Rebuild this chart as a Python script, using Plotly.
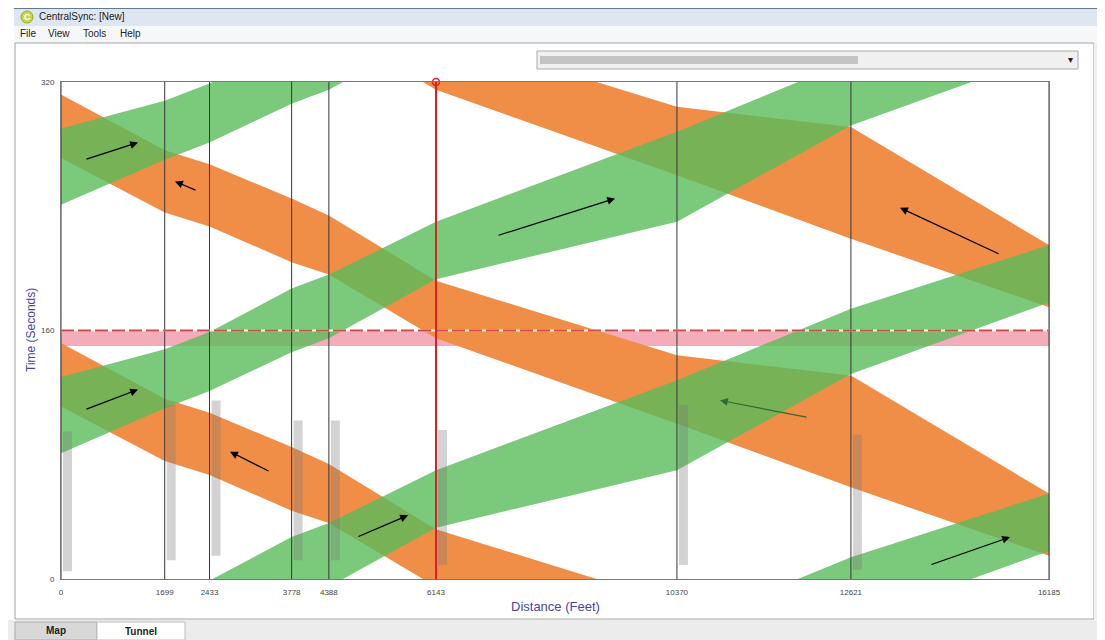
import plotly.graph_objects as go

# ---------------- data ----------------
cycle_length = 160  # seconds
dist_labels = ["0", "1699", "2433", "3778", "4388", "6143", "10370", "12621", "16185"]
dist_pos = [0, 1699, 2433, 3778, 4388, 6143, 10090, 12940, 16185]
y_ticks = [0, 160, 320]

# green (up-right) band edges, seconds, at each intersection
green_lo = [81, 110, 121, 146, 155, 193, 230, 292, 338]
green_hi = [130, 148, 159, 187, 196, 230, 288, 334, 375]
green_cycles = [-2, -1, 0, 1]
# orange (down-right) band edges, seconds, at each intersection
orange_hi = [312, 276, 267, 245, 234, 192, 144, 131, 55]
orange_lo = [271, 236, 227, 204, 196, 155, 100, 59, 15]
orange_cycles = [-1, 0, 1]

pink_band = [150, 160]
selected_intersection = 6143

# arrows: (tail_x, tail_t, head_x, head_t, colour)
arrows = [
    (393, 270, 1261, 281, "black"),
    (2228, 250, 1868, 256, "black"),
    (393, 109, 1261, 122, "black"),
    (3424, 69, 2769, 82, "black"),
    (4849, 27, 5685, 41, "black"),
    (7143, 221, 9076, 245, "black"),
    (12237, 104, 10796, 115, "#2e6b34"),
    (15383, 209, 13744, 239, "black"),
    (14236, 9, 15547, 27, "black"),
]
# blurred street-name label extents (seconds) at each intersection
label_extent = [(5, 95), (12, 112), (15, 115), (12, 102), (12, 102), (9, 96), (9, 112), (6, 93), (6, 108)]

# ---------------- layout helpers ----------------
W, H = 1105, 640
OFF = 8  # page body margin of the browser
PL, PR, PT, PB = 61, 1049, 82, 579


def px(x):
    return (x - PL) / (PR - PL)


def py(y):
    return (PB - y) / (PB - PT)


ORANGE = "rgb(240,142,72)"
GREEN = "rgba(90,188,90,0.80)"

fig = go.Figure()

# pink band
fig.add_trace(go.Scatter(
    x=[dist_pos[0], dist_pos[-1], dist_pos[-1], dist_pos[0]],
    y=[pink_band[0], pink_band[0], pink_band[1], pink_band[1]],
    fill="toself", fillcolor="rgb(245,172,186)", line=dict(width=0),
    mode="lines", hoverinfo="skip", showlegend=False))

for k in orange_cycles:
    fig.add_trace(go.Scatter(
        x=dist_pos + dist_pos[::-1],
        y=[v + k * cycle_length for v in orange_hi] + [v + k * cycle_length for v in orange_lo[::-1]],
        fill="toself", fillcolor=ORANGE, line=dict(width=0), mode="lines",
        hoverinfo="skip", showlegend=False))

for k in green_cycles:
    fig.add_trace(go.Scatter(
        x=dist_pos + dist_pos[::-1],
        y=[v + k * cycle_length for v in green_hi] + [v + k * cycle_length for v in green_lo[::-1]],
        fill="toself", fillcolor=GREEN, line=dict(width=0), mode="lines",
        hoverinfo="skip", showlegend=False))

# intersection lines
for p in dist_pos:
    if p == selected_intersection:
        continue
    fig.add_trace(go.Scatter(x=[p, p], y=[0, 320], mode="lines",
                             line=dict(color="rgb(55,55,55)", width=1),
                             hoverinfo="skip", showlegend=False))

# cycle line
fig.add_trace(go.Scatter(x=[dist_pos[0], dist_pos[-1]], y=[cycle_length, cycle_length], mode="lines",
                         line=dict(color="rgba(255,255,240,0.9)", width=2), hoverinfo="skip", showlegend=False))
fig.add_trace(go.Scatter(x=[dist_pos[0], dist_pos[-1]], y=[cycle_length, cycle_length], mode="lines",
                         line=dict(color="rgb(205,75,75)", width=2, dash="13px,4px"),
                         hoverinfo="skip", showlegend=False))

# selected intersection
fig.add_trace(go.Scatter(x=[selected_intersection, selected_intersection], y=[0, 320], mode="lines",
                         line=dict(color="rgb(215,35,35)", width=2), hoverinfo="skip", showlegend=False))
fig.add_trace(go.Scatter(x=[selected_intersection], y=[320], mode="markers", cliponaxis=False,
                         marker=dict(symbol="circle-open", size=7, color="rgb(215,35,35)", line=dict(width=1.5)),
                         hoverinfo="skip", showlegend=False))

shapes = []
annotations = []

# blurred street labels
for p, (a, b) in zip(dist_pos, label_extent):
    shapes.append(dict(type="rect", xref="x", yref="y", xsizemode="pixel", xanchor=p,
                       x0=2, x1=11, y0=a, y1=b, line=dict(width=0),
                       fillcolor="rgba(120,120,120,0.33)", layer="above"))

# arrows
for tx, tt, hx, ht, col in arrows:
    annotations.append(dict(x=hx, y=ht, ax=tx, ay=tt, xref="x", yref="y", axref="x", ayref="y",
                            showarrow=True, arrowhead=2, arrowsize=1.3, arrowwidth=1.2,
                            arrowcolor=col, text=""))


# ---- window chrome ----
def rect(x0, y0, x1, y1, fill, line=None, lw=1, layer="below"):
    shapes.append(dict(type="rect", xref="paper", yref="paper",
                       x0=px(x0), x1=px(x1), y0=py(y1), y1=py(y0),
                       fillcolor=fill, line=dict(color=line or fill, width=lw if line else 0),
                       layer=layer))


def text(x, y, s, size=10, color="#222", anchor="left", bold=False, angle=0, family="Liberation Sans"):
    annotations.append(dict(x=px(x), y=py(y), xref="paper", yref="paper", text=("<b>%s</b>" % s) if bold else s,
                            showarrow=False, xanchor=anchor, yanchor="middle", textangle=angle,
                            font=dict(size=size, color=color, family=family)))


rect(14, 5, 1105, 26, "rgb(222,231,241)")
shapes.append(dict(type="line", xref="paper", yref="paper", x0=px(14), x1=px(1105), y0=py(8), y1=py(8),
                   line=dict(color="rgb(60,85,115)", width=1.5)))
rect(14, 26, 1105, 42, "rgb(246,247,248)")
shapes.append(dict(type="circle", xref="paper", yref="paper", x0=px(21), x1=px(33), y0=py(23), y1=py(11),
                   fillcolor="rgb(200,215,70)", line=dict(color="rgb(150,170,40)", width=1)))
text(27, 17, "C", size=9, color="white", anchor="center", bold=True)
text(37, 17, "CentralSync: [New]", size=10)
for xx, s in [(18, "File"), (46, "View"), (81, "Tools"), (118, "Help")]:
    text(xx, 33.5, s, size=10)

# panel
rect(15, 43, 1094, 619, "white", line="rgb(160,160,160)")
rect(1094, 43, 1105, 619, "rgb(238,238,238)")
shapes.append(dict(type="line", xref="paper", yref="paper", x0=px(1100), x1=px(1100), y0=py(43), y1=py(619),
                   line=dict(color="rgb(180,180,180)", width=1)))
# dropdown
rect(537, 51, 1078, 69, "rgb(240,240,240)", line="rgb(170,170,170)")
rect(540, 56, 858, 64, "rgb(196,196,196)", layer="above")
text(1070, 60, "▾", size=10, color="#222", anchor="center")

# bottom tabs
rect(0, 620, 1105, 640, "rgb(236,236,236)")
rect(15, 622, 97, 640, "rgb(216,216,216)", line="rgb(170,170,170)")
rect(97, 622, 185, 640, "white", line="rgb(190,190,190)")
text(56, 630, "Map", size=10, anchor="center", bold=True)
text(141, 631, "Tunnel", size=10, anchor="center", bold=True)

# axis titles
text(31, 330, "Time (Seconds)", size=12, color="rgb(70,70,170)", anchor="center", angle=-90)
text(555, 606, "Distance (Feet)", size=13, color="rgb(70,70,170)", anchor="center")

fig.update_layout(
    width=W - OFF, height=H - OFF,
    margin=dict(l=PL - OFF, r=W - PR, t=PT - OFF, b=H - PB),
    paper_bgcolor="white", plot_bgcolor="white",
    shapes=shapes, annotations=annotations,
    xaxis=dict(range=[dist_pos[0], dist_pos[-1]], tickvals=dist_pos, ticktext=dist_labels,
               showgrid=False, zeroline=False, showline=True, mirror=True,
               linecolor="rgb(120,120,120)", linewidth=1, ticks="", ticklabelstandoff=5,
               tickfont=dict(size=8, color="#444", family="Liberation Sans")),
    yaxis=dict(range=[0, 320], tickvals=y_ticks, ticktext=[str(v) for v in y_ticks],
               showgrid=False, zeroline=False, showline=True, mirror=True,
               linecolor="rgb(120,120,120)", linewidth=1, ticks="", ticklabelstandoff=4,
               tickfont=dict(size=8, color="#444", family="Liberation Sans")),
)

fig.write_html("out.html")
